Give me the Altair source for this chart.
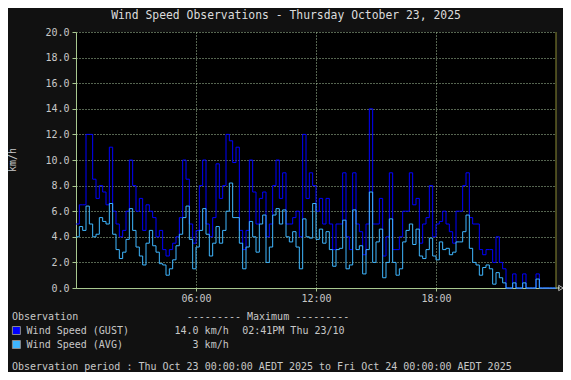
import altair as alt
import pandas as pd

# ---- data (10-minute samples, km/h) ----
gust = [
    5.0, 6.5, 6.5, 12.0, 12.0, 8.5,
    7.0, 8.0, 7.5, 6.5, 11.0, 6.0,
    5.0, 4.0, 4.5, 6.0, 10.0, 8.0,
    6.0, 7.0, 4.5, 6.5, 6.0, 5.5,
    4.0, 4.5, 3.0, 2.5, 3.0, 3.5,
    4.0, 5.5, 10.0, 8.5, 5.0, 3.5,
    4.5, 8.0, 10.0, 5.0, 4.0, 5.5,
    9.7, 7.0, 8.0, 12.0, 11.5, 9.8,
    11.0, 4.5, 3.0, 4.5, 10.0, 7.5,
    5.0, 7.0, 7.5, 4.0, 5.0, 8.0,
    10.0, 7.0, 9.0, 5.0, 5.0, 5.5,
    6.0, 4.0, 12.0, 7.0, 9.0, 8.0,
    6.0, 7.0, 5.0, 7.0, 5.0, 3.0,
    5.0, 5.0, 9.0, 4.0, 3.0, 9.0,
    5.0, 4.4, 2.6, 5.0, 14.0, 5.0,
    5.0, 7.0, 2.5, 4.0, 9.0, 3.0,
    3.0, 4.0, 6.0, 6.0, 9.0, 6.5,
    7.0, 3.5, 5.0, 5.5, 8.0, 4.0,
    5.0, 5.2, 6.0, 5.0, 4.4, 3.5,
    6.0, 6.0, 8.0, 9.0, 5.5, 5.0,
    5.0, 3.0, 2.6, 3.0, 3.0, 2.0,
    4.0, 2.0, 1.5, 0.0, 0.0, 1.1,
    0.0, 0.0, 1.1, 0.0, 0.0, 0.0,
    1.1, 0.0, 0.0, 0.0, 0.0, 0.0,
]
avg = [
    4.0, 4.8, 4.5, 6.4, 5.0, 4.0,
    4.2, 5.5, 5.2, 5.0, 6.6, 4.2,
    3.0, 2.3, 2.8, 3.8, 6.2, 4.5,
    3.2, 2.5, 1.8, 3.5, 4.5, 3.3,
    2.8, 1.9, 1.8, 1.0, 1.5, 2.2,
    3.3, 4.2, 5.5, 6.4, 3.8, 1.5,
    3.2, 4.5, 6.2, 4.2, 2.5, 3.5,
    4.8, 3.5, 4.5, 6.0, 8.2, 5.5,
    5.5, 3.5, 1.5, 3.2, 5.2, 4.0,
    2.8, 5.0, 5.7, 2.0, 3.2, 5.7,
    6.2, 5.0, 6.1, 4.0, 3.6, 4.4,
    3.2, 1.5, 5.4, 4.0, 3.9, 6.6,
    3.8, 4.6, 3.5, 4.4, 3.0, 1.7,
    3.0, 3.1, 5.3, 1.5, 1.8, 6.1,
    3.0, 3.3, 1.1, 3.0, 7.5, 2.0,
    3.6, 4.6, 0.8, 2.0, 5.4, 2.0,
    1.0, 1.5, 3.6, 4.5, 5.0, 3.4,
    4.6, 2.5, 2.3, 3.0, 3.9, 2.5,
    2.2, 3.6, 3.0, 3.1, 2.6, 2.8,
    3.6, 3.6, 4.4, 5.7, 3.1, 2.0,
    1.8, 1.0, 1.6, 1.8, 1.5, 0.3,
    1.2, 0.8, 0.4, 0.0, 0.0, 0.4,
    0.0, 0.0, 0.4, 0.0, 0.0, 0.0,
    0.7, 0.0, 0.0, 0.0, 0.0, 0.0,
]
y_ticks = [0, 2, 4, 6, 8, 10, 12, 14, 16, 18, 20]
x_ticks = [6, 12, 18]

title_text = "Wind Speed Observations - Thursday October 23, 2025"
y_title = "km/h"
legend_head = "Observation"
max_head = "--------- Maximum ---------"
series_names = ["Wind Speed (GUST)", "Wind Speed (AVG)"]
series_max = ["14.0 km/h", "3 km/h"]
gust_max_time = "02:41PM Thu 23/10"
period_text = "Observation period : Thu Oct 23 00:00:00 AEDT 2025 to Fri Oct 24 00:00:00 AEDT 2025"

GUST_C = "#0000ff"
AVG_C = "#3fb6ff"
GRID_C = "#aac8a0"
AXIS_C = "#a8c890"
TXT_C = "#c8c8c8"
FONT = "DejaVu Sans Mono"

n = len(gust)
hrs = [i / 6 for i in range(n)] + [24.0]
df = pd.DataFrame({
    "h": hrs,
    "gust": gust + [gust[-1]],
    "avg": avg + [avg[-1]],
})
one = pd.DataFrame({"k": [0]})  # single row for annotation marks

W, H = 480, 256

xenc = alt.X(
    "h:Q",
    scale=alt.Scale(domain=[0, 24], nice=False, zero=False),
    axis=alt.Axis(
        values=x_ticks, title=None, grid=True, gridColor=GRID_C, gridDash=[1, 2],
        domainColor=AXIS_C, tickColor=AXIS_C, tickSize=3, labelPadding=2,
        labelFont=FONT, labelFontSize=10, labelColor=TXT_C,
        labelExpr="(datum.value < 10 ? '0' : '') + datum.value + ':00'",
    ),
)


def yenc(field):
    return alt.Y(
        f"{field}:Q",
        scale=alt.Scale(domain=[0, 20], nice=False),
        axis=alt.Axis(
            values=y_ticks, format=".1f", title=None, grid=True, gridColor=GRID_C,
            gridDash=[1, 2], domainColor=AXIS_C, tickColor=AXIS_C, tickSize=4,
            labelPadding=3, labelFont=FONT, labelFontSize=10, labelColor=TXT_C,
        ),
    )


base = alt.Chart(df)
gust_line = base.mark_line(interpolate="step-after", color=GUST_C, strokeWidth=1).encode(
    x=xenc, y=yenc("gust"))
avg_line = base.mark_line(interpolate="step-after", color=AVG_C, strokeWidth=1).encode(
    x=xenc, y=yenc("avg"))

ann = alt.Chart(one)
right_edge = ann.mark_rule(color="#8c8c34", strokeWidth=1).encode(
    x=alt.value(W), y=alt.value(0), y2=alt.value(H))
arrow_line = ann.mark_rule(color=AXIS_C, strokeWidth=1).encode(
    x=alt.value(W), x2=alt.value(484), y=alt.value(H))
arrow = ann.mark_point(shape="triangle-right", filled=False, stroke="#ffffff",
                       strokeWidth=1, size=28).encode(
    x=alt.value(485), y=alt.value(H))


def txt(s, x, y, align="left", size=10, color=TXT_C, angle=0):
    kw = dict(align=align, baseline="middle", font=FONT, fontSize=size, color=color)
    if angle:
        kw["angle"] = angle
    return ann.mark_text(**kw).encode(
        x=alt.value(x), y=alt.value(y), text=alt.value(s))


def sq(color, y):
    return ann.mark_square(size=64, filled=True, color=color, stroke="#8a8a8a",
                           strokeWidth=1, opacity=1).encode(
        x=alt.value(-59.6), y=alt.value(y))


texts = [
    txt(title_text, 210, -15.6, align="center", size=11.4, color="#dcdcdc"),
    txt(y_title, -62.7, H / 2, align="center", angle=270),
    txt(legend_head, -64, 284.5),
    txt(max_head, 110.8, 284.5),
    sq(GUST_C, 298.5),
    txt(series_names[0], -49.4, 298.5),
    txt(series_max[0], 152.7, 298.5, align="right"),
    txt(gust_max_time, 166.2, 298.5),
    sq(AVG_C, 312.5),
    txt(series_names[1], -49.4, 312.5),
    txt(series_max[1], 152.7, 312.5, align="right"),
    txt(period_text, -64, 334.5),
]

chart = alt.layer(gust_line, avg_line, right_edge, arrow_line, arrow, *texts).properties(
    width=W, height=H,
    padding={"left": 68, "top": 24, "right": 7, "bottom": 84},
    autosize=alt.AutoSizeParams(type="none"),
    background="#111111",
).configure_view(fill="#000000", stroke=None)

chart.save("out.html", embed_options={"renderer": "svg", "actions": False})
